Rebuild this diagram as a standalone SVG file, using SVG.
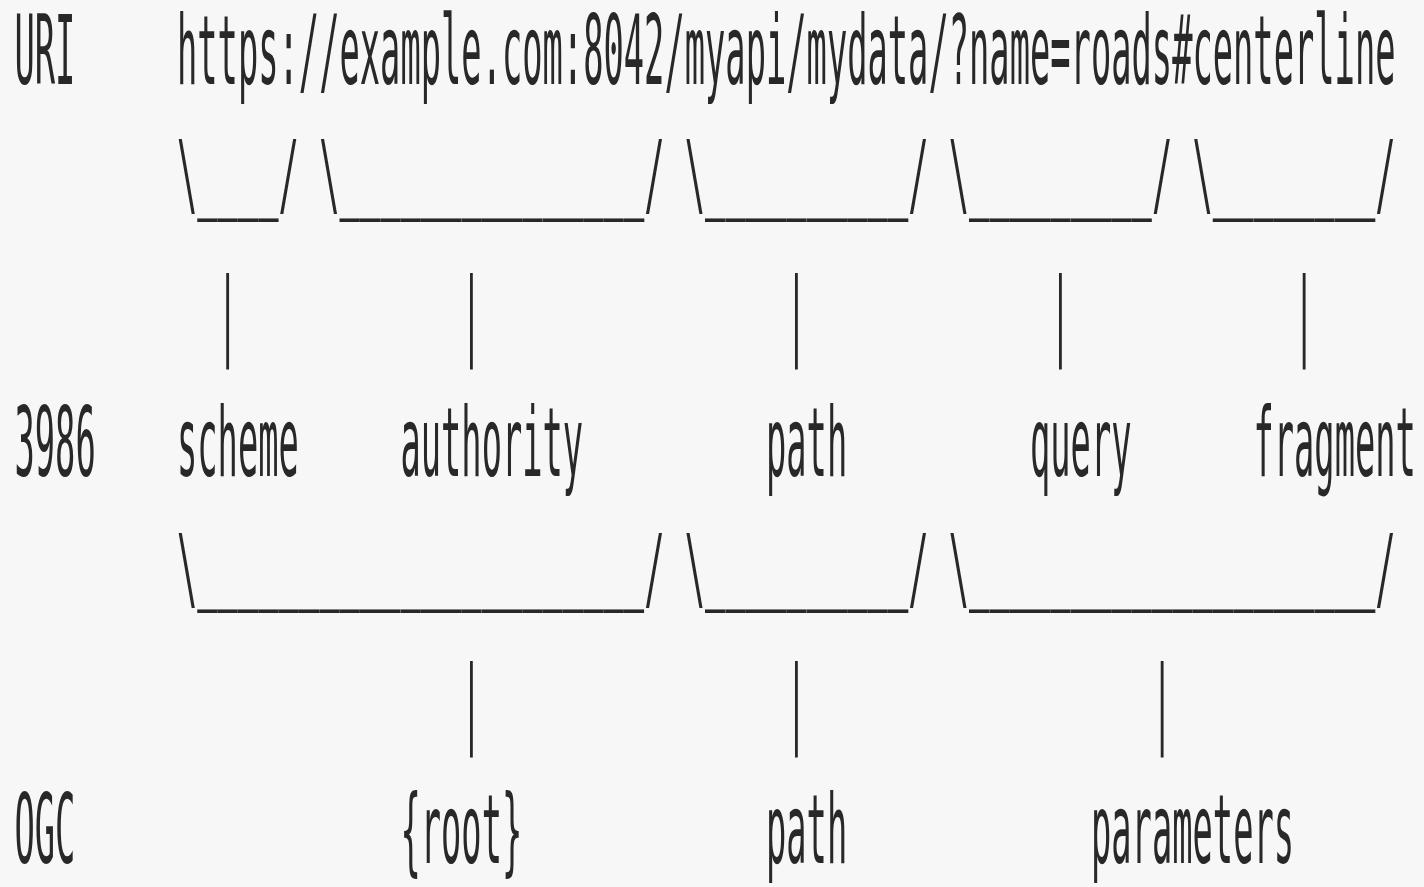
<svg xmlns="http://www.w3.org/2000/svg" width="1424" height="887" viewBox="0 0 1424 887">
  <style>
    .t { font-family: "DejaVu Sans Mono", monospace; font-size: 33.74px; fill: #282828; }
  </style>
  <rect width="1424" height="887" fill="#f7f7f7"/>

  <!-- row labels -->
  <g id="labels">
    <g transform="translate(0,83.5) scale(1,2.846)"><text class="t" x="14.5" y="0">URI</text></g>
    <g transform="translate(0,476) scale(1,2.846)"><text class="t" x="14.5" y="0">3986</text></g>
    <g transform="translate(0,862.7) scale(1,2.846)"><text class="t" x="14.5" y="0">OGC</text></g>
  </g>

  <!-- full URI -->
  <g id="uri" transform="translate(0,83.5) scale(1,2.846)">
    <text class="t" x="177" y="0">https://example.com:8042/myapi/mydata/?name=roads#centerline</text>
  </g>

  <!-- RFC 3986 components -->
  <g id="rfc3986" transform="translate(0,476) scale(1,2.846)">
    <text id="scheme" class="t" x="177" y="0">scheme</text>
    <text id="authority" class="t" x="400.4" y="0">authority</text>
    <text id="path-3986" class="t" x="766" y="0">path</text>
    <text id="query" class="t" x="1030" y="0">query</text>
    <text id="fragment" class="t" x="1253.4" y="0">fragment</text>
  </g>

  <!-- OGC components -->
  <g id="ogc" transform="translate(0,862.7) scale(1,2.846)">
    <text id="root" class="t" x="400.4" y="0">{root}</text>
    <text id="path-ogc" class="t" x="766" y="0">path</text>
    <text id="parameters" class="t" x="1091" y="0">parameters</text>
  </g>

  <!-- brackets and stems; the underscore runs are lifted a little with dy -->
  <g id="connectors">
    <!-- URI -> 3986 brackets -->
    <g transform="translate(0,206.4) scale(1,2.7)">
      <text class="t" x="177" y="0">\<tspan dy="-2.15">____</tspan><tspan dy="2.15">/</tspan></text>
      <text class="t" x="319.2" y="0">\<tspan dy="-2.15">_______________</tspan><tspan dy="2.15">/</tspan></text>
      <text class="t" x="684.8" y="0">\<tspan dy="-2.15">__________</tspan><tspan dy="2.15">/</tspan></text>
      <text class="t" x="948.8" y="0">\<tspan dy="-2.15">_________</tspan><tspan dy="2.15">/</tspan></text>
      <text class="t" x="1192.5" y="0">\<tspan dy="-2.15">________</tspan><tspan dy="2.15">/</tspan></text>
    </g>
    <g transform="translate(0,345.7) scale(1,2.846)">
      <text class="t" x="217.6" y="0">|</text>
      <text class="t" x="461.3" y="0">|</text>
      <text class="t" x="786.3" y="0">|</text>
      <text class="t" x="1050.3" y="0">|</text>
      <text class="t" x="1294" y="0">|</text>
    </g>
    <!-- 3986 -> OGC brackets -->
    <g transform="translate(0,599.9) scale(1,2.7)">
      <text class="t" x="177" y="0">\<tspan dy="-2.9">______________________</tspan><tspan dy="2.9">/</tspan></text>
      <text class="t" x="684.8" y="0">\<tspan dy="-2.9">__________</tspan><tspan dy="2.9">/</tspan></text>
      <text class="t" x="948.8" y="0">\<tspan dy="-2.9">____________________</tspan><tspan dy="2.9">/</tspan></text>
    </g>
    <g transform="translate(0,734) scale(1,2.846)">
      <text class="t" x="461.3" y="0">|</text>
      <text class="t" x="786.3" y="0">|</text>
      <text class="t" x="1151.9" y="0">|</text>
    </g>
  </g>
</svg>
